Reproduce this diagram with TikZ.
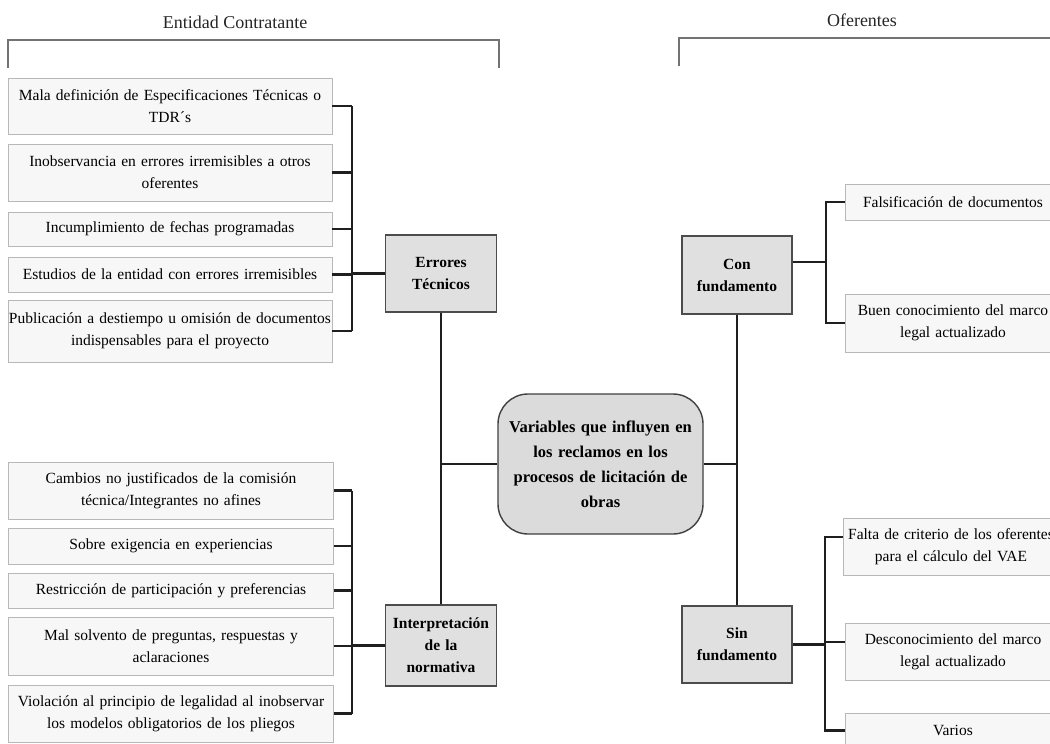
\documentclass[tikz,border=0pt]{standalone}
\usepackage{fontspec}
\setmainfont{Liberation Serif}
\usetikzlibrary{calc}
\begin{document}
\begin{tikzpicture}[x=1pt,y=-1pt,
  txt/.style={font=\fontsize{15.5}{22}\selectfont},
  leaf/.style={txt,draw=black!28,fill=black!3,line width=0.9pt,inner sep=0pt,align=center,text width=#1,minimum width=#1},
  cat/.style={txt,font=\fontsize{15.5}{22}\selectfont\bfseries,draw=black!70,fill=black!12,line width=1.1pt,inner sep=0pt,align=center,minimum width=111pt,text width=111pt},
  central/.style={font=\fontsize{16.5}{25}\selectfont\bfseries,draw=black!75,fill=black!14,line width=1.4pt,rounded corners=30pt,inner sep=0pt,align=center,minimum width=205pt,text width=205pt,minimum height=140pt},
  conn/.style={draw=black!88,line width=2.1pt},
  brack/.style={draw=black!55,line width=1.3pt},
  title/.style={font=\fontsize{18}{22}\selectfont,text=black!85}
]
\useasboundingbox (0,0) rectangle (1050,744);
\clip (0,0) rectangle (1050,744);
\fill[white] (0,0) rectangle (1050,744);

% titles and brackets
\node[title] (tl) at (235,22) {Entidad Contratante};
\node[title] (tr) at (862,20) {Oferentes};
\coordinate (bl1) at (8,68);
\coordinate (bl2) at (8,40);
\coordinate (bl3) at (499,40);
\coordinate (bl4) at (499,68);
\draw[brack] (bl1) -- (bl2) -- (bl3) -- (bl4);
\coordinate (br1) at (679,66);
\coordinate (br2) at (679,38);
\coordinate (br3) at (1060,38);
\draw[brack] (br1) -- (br2) -- (br3);

% left top leaves
\node[leaf=324pt,minimum height=56pt] (a1) at (170,106) {Mala definición de Especificaciones Técnicas o\\TDR´s};
\node[leaf=324pt,minimum height=57pt] (a2) at (170,172.5) {Inobservancia en errores irremisibles a otros\\oferentes};
\node[leaf=324pt,minimum height=34pt] (a3) at (170,229) {Incumplimiento de fechas programadas};
\node[leaf=324pt,minimum height=35pt] (a4) at (170,274.5) {Estudios de la entidad con errores irremisibles};
\node[leaf=324pt,minimum height=62pt] (a5) at (170,331) {Publicación a destiempo u omisión de documentos\\indispensables para el proyecto};

% left bottom leaves
\node[leaf=325pt,minimum height=57pt] (b1) at (171,490.5) {Cambios no justificados de la comisión\\técnica/Integrantes no afines};
\node[leaf=325pt,minimum height=36pt] (b2) at (171,546) {Sobre exigencia en experiencias};
\node[leaf=325pt,minimum height=35pt] (b3) at (171,590.5) {Restricción de participación y preferencias};
\node[leaf=325pt,minimum height=58pt] (b4) at (171,646) {Mal solvento de preguntas, respuestas y\\aclaraciones};
\node[leaf=325pt,minimum height=57pt] (b5) at (171,713.5) {Violación al principio de legalidad al inobservar\\los modelos obligatorios de los pliegos};

% categories
\node[cat,minimum height=77pt] (et) at (441,273.5) {Errores\\Técnicos};
\node[cat,minimum height=81pt] (in) at (441,645.5) {Interpretación\\de la\\normativa};
\node[cat,minimum height=78pt,minimum width=110pt,text width=110pt] (cf) at (737,275) {Con\\fundamento};
\node[cat,minimum height=77pt,minimum width=110pt,text width=110pt] (sf) at (737,644.5) {Sin\\fundamento};

% central
\node[central] (c) at (600.5,464) {Variables que influyen en\\los reclamos en los\\procesos de licitación de\\obras};

% right leaves
\node[leaf=216pt,minimum height=36pt] (r1) at (953,202) {Falsificación de documentos};
\node[leaf=216pt,minimum height=58pt] (r2) at (953,323) {Buen conocimiento del marco\\legal actualizado};
\node[leaf=216pt,minimum height=57pt] (r3) at (951,546.5) {Falta de criterio de los oferentes\\para el cálculo del VAE};
\node[leaf=216pt,minimum height=57pt] (r4) at (953,651.5) {Desconocimiento del marco\\legal actualizado};
\node[leaf=216pt,minimum height=35pt] (r5) at (953,730.5) {Varios};

% buses
\coordinate (xl) at (352,0);
\coordinate (xr1) at (826,0);
\coordinate (xr2) at (825,0);

% left top connections
\foreach \n in {a1,a2,a3,a4,a5}{\draw[conn] (\n.east) -- (\n.east -| xl);}
\draw[conn] (a1.east -| xl) -- (a5.east -| xl);
\draw[conn] (et.west -| xl) -- (et.west);

% left bottom connections
\foreach \n in {b1,b2,b3,b4,b5}{\draw[conn] (\n.east) -- (\n.east -| xl);}
\draw[conn] (b1.east -| xl) -- (b5.east -| xl);
\draw[conn] (in.west -| xl) -- (in.west);

% spine
\draw[conn] (et.south) -- (in.north);
\draw[conn] (c.west -| et.south) -- (c.west);
\draw[conn] (cf.south) -- (sf.north);
\draw[conn] (c.east) -- (c.east -| cf.south);

% right top
\draw[conn] ([yshift=13pt]cf.east) -- ([yshift=13pt]cf.east -| xr1);
\draw[conn] (r1.west) -- (r1.west -| xr1) -- (r2.west -| xr1) -- (r2.west);

% right bottom
\draw[conn] (sf.east) -- (sf.east -| xr2);
\draw[conn] ([yshift=9.5pt]r3.west) -- ([yshift=9.5pt]r3.west -| xr2) -- ([yshift=9.5pt]r4.west -| xr2) -- ([yshift=9.5pt]r4.west);
\draw[conn] ([yshift=9.5pt]r4.west -| xr2) -- (r5.west -| xr2) -- (r5.west);
\end{tikzpicture}
\end{document}
